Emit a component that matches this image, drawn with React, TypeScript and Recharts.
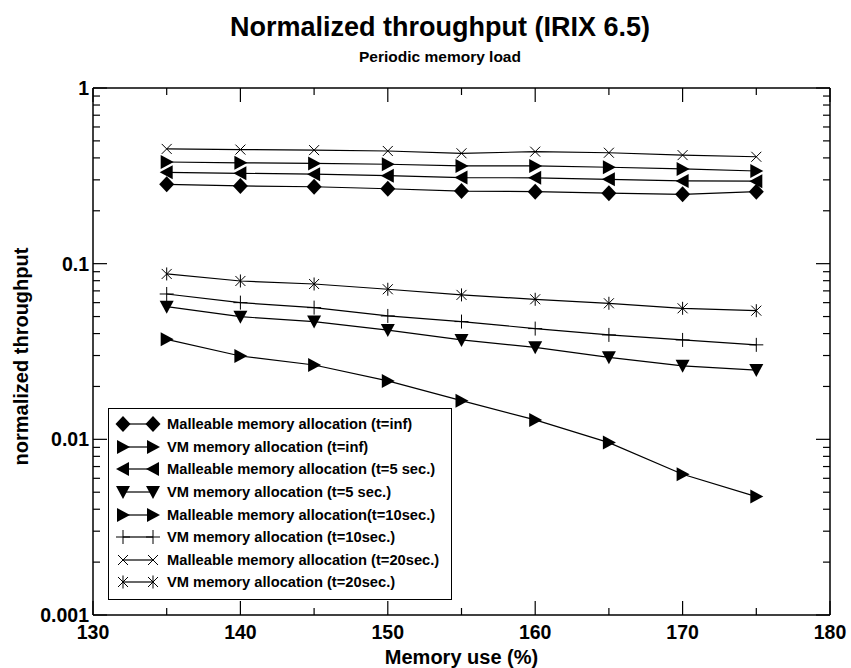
import { LineChart, Line, XAxis, YAxis, Legend } from 'recharts';

const FONT = '"Liberation Sans", Arial, Helvetica, sans-serif';

// memory use (%) of each measured point
const memoryUse = [135, 140, 145, 150, 155, 160, 165, 170, 175];

// normalized throughput per policy
const malleableInf = [0.283, 0.277, 0.274, 0.267, 0.259, 0.257, 0.252, 0.248, 0.257];
const vmInf = [0.0371, 0.0298, 0.0265, 0.0215, 0.0166, 0.0129, 0.00958, 0.00633, 0.00472];
const malleable5 = [0.331, 0.327, 0.323, 0.317, 0.309, 0.308, 0.302, 0.296, 0.295];
const vm5 = [0.0569, 0.0499, 0.0468, 0.0419, 0.0368, 0.0334, 0.0293, 0.0262, 0.0248];
const malleable10 = [0.379, 0.375, 0.372, 0.368, 0.36, 0.36, 0.354, 0.346, 0.337];
const vm10 = [0.0672, 0.06, 0.0562, 0.0504, 0.0468, 0.0427, 0.0393, 0.0368, 0.0345];
const malleable20 = [0.45, 0.446, 0.443, 0.438, 0.425, 0.434, 0.428, 0.415, 0.406];
const vm20 = [0.0874, 0.0797, 0.0766, 0.0715, 0.0664, 0.0627, 0.0595, 0.0557, 0.054];

const xTicks = [130, 135, 140, 145, 150, 155, 160, 165, 170, 175, 180];
const yTicks = [
  0.001, 0.002, 0.003, 0.004, 0.005, 0.006, 0.007, 0.008, 0.009,
  0.01, 0.02, 0.03, 0.04, 0.05, 0.06, 0.07, 0.08, 0.09,
  0.1, 0.2, 0.3, 0.4, 0.5, 0.6, 0.7, 0.8, 0.9, 1,
];

type Shape = 'diamond' | 'triRight' | 'triLeft' | 'triDown' | 'plus' | 'cross' | 'star';

const series: { key: string; name: string; shape: Shape; values: number[] }[] = [
  { key: 'malleableInf', name: 'Malleable memory allocation (t=inf)', shape: 'diamond', values: malleableInf },
  { key: 'vmInf', name: 'VM memory allocation (t=inf)', shape: 'triRight', values: vmInf },
  { key: 'malleable5', name: 'Malleable memory allocation (t=5 sec.)', shape: 'triLeft', values: malleable5 },
  { key: 'vm5', name: 'VM memory allocation (t=5 sec.)', shape: 'triDown', values: vm5 },
  { key: 'malleable10', name: 'Malleable memory allocation(t=10sec.)', shape: 'triRight', values: malleable10 },
  { key: 'vm10', name: 'VM memory allocation (t=10sec.)', shape: 'plus', values: vm10 },
  { key: 'malleable20', name: 'Malleable memory allocation (t=20sec.)', shape: 'cross', values: malleable20 },
  { key: 'vm20', name: 'VM memory allocation (t=20sec.)', shape: 'star', values: vm20 },
];

const data = memoryUse.map((m, i) => {
  const row: Record<string, number> = { m };
  series.forEach((s) => (row[s.key] = s.values[i]));
  return row;
});

function Marker({ shape, cx, cy }: { shape: Shape; cx: number; cy: number }) {
  const thin = { stroke: '#000', strokeWidth: 1, fill: 'none' };
  switch (shape) {
    case 'diamond':
      return <polygon points={`${cx},${cy - 8} ${cx + 7.5},${cy} ${cx},${cy + 8} ${cx - 7.5},${cy}`} fill="#000" />;
    case 'triRight':
      return <polygon points={`${cx - 6},${cy - 7} ${cx + 7},${cy} ${cx - 6},${cy + 7}`} fill="#000" />;
    case 'triLeft':
      return <polygon points={`${cx + 6},${cy - 7} ${cx - 7},${cy} ${cx + 6},${cy + 7}`} fill="#000" />;
    case 'triDown':
      return <polygon points={`${cx - 7},${cy - 6} ${cx + 7},${cy - 6} ${cx},${cy + 7}`} fill="#000" />;
    case 'plus':
      return (
        <g {...thin}>
          <line x1={cx - 7} x2={cx + 7} y1={cy} y2={cy} />
          <line x1={cx} x2={cx} y1={cy - 7} y2={cy + 7} />
        </g>
      );
    case 'cross':
      return (
        <g {...thin}>
          <line x1={cx - 5} x2={cx + 5} y1={cy - 5} y2={cy + 5} />
          <line x1={cx - 5} x2={cx + 5} y1={cy + 5} y2={cy - 5} />
        </g>
      );
    default:
      return (
        <g {...thin}>
          <line x1={cx - 5} x2={cx + 5} y1={cy - 5} y2={cy + 5} />
          <line x1={cx - 5} x2={cx + 5} y1={cy + 5} y2={cy - 5} />
          <line x1={cx} x2={cx} y1={cy - 6.5} y2={cy + 6.5} />
        </g>
      );
  }
}

const dotFor = (shape: Shape) => (props: any) => (
  <Marker key={`${shape}-${props.index}`} shape={shape} cx={props.cx} cy={props.cy} />
);

const isMajor = (v: number) => Math.abs(Math.log10(v) - Math.round(Math.log10(v))) < 1e-9;
const tickText = { fontSize: 19.5, fontWeight: 'bold', fontFamily: FONT, fill: '#000' } as const;

function LeftTick({ x, y, payload }: any) {
  const major = isMajor(payload.value);
  return (
    <g>
      <line x1={x} x2={x + (major ? 14 : 7)} y1={y} y2={y} stroke="#000" strokeWidth={1.2} />
      {major && (
        <text x={x - 4} y={y} dy="0.36em" textAnchor="end" {...tickText}>
          {String(payload.value)}
        </text>
      )}
    </g>
  );
}

function RightTick({ x, y, payload }: any) {
  const major = isMajor(payload.value);
  return <line x1={x} x2={x - (major ? 14 : 7)} y1={y} y2={y} stroke="#000" strokeWidth={1.2} />;
}

function BottomTick({ x, y, payload }: any) {
  const major = payload.value % 10 === 0;
  return (
    <g>
      <line x1={x} x2={x} y1={y} y2={y - (major ? 14 : 7)} stroke="#000" strokeWidth={1.2} />
      {major && (
        <text x={x} y={y + 17} dy="0.36em" textAnchor="middle" {...tickText}>
          {payload.value}
        </text>
      )}
    </g>
  );
}

function TopTick({ x, y, payload }: any) {
  const major = payload.value % 10 === 0;
  return <line x1={x} x2={x} y1={y} y2={y + (major ? 14 : 7)} stroke="#000" strokeWidth={1.2} />;
}

function YLabel({ viewBox }: any) {
  const cx = 21;
  const cy = viewBox.y + viewBox.height / 2 + 5;
  return (
    <text x={cx} y={cy} transform={`rotate(-90 ${cx} ${cy})`} textAnchor="middle" dy="0.36em"
      fontSize={20} fontWeight="bold" fontFamily={FONT}>
      normalized throughput
    </text>
  );
}

function LegendBox() {
  return (
    <div style={{ border: '1.5px solid #000', background: '#fff', width: 344, height: 192, boxSizing: 'border-box', paddingTop: 4 }}>
      {series.map((s) => (
        <div key={s.key} style={{ display: 'flex', alignItems: 'center', height: 22.6 }}>
          <svg width={58} height={20} style={{ flex: 'none' }}>
            <line x1={14} x2={44} y1={10} y2={10} stroke="#000" strokeWidth={1.2} />
            <Marker shape={s.shape} cx={14} cy={10} />
            <Marker shape={s.shape} cx={44} cy={10} />
          </svg>
          <span style={{ fontFamily: FONT, fontWeight: 'bold', fontSize: 14.7, whiteSpace: 'nowrap' }}>{s.name}</span>
        </div>
      ))}
    </div>
  );
}

export default function App() {
  return (
    <div style={{ position: 'absolute', left: 0, top: 0, width: 851, height: 668, background: '#fff' }}>
      <div style={{ position: 'absolute', left: 0, width: 880, top: 12, textAlign: 'center', fontFamily: FONT, fontWeight: 'bold', fontSize: 27 }}>
        Normalized throughput (IRIX 6.5)
      </div>
      <div style={{ position: 'absolute', left: 0, width: 880, top: 48, textAlign: 'center', fontFamily: FONT, fontWeight: 'bold', fontSize: 15.5 }}>
        Periodic memory load
      </div>
      <LineChart width={851} height={668} data={data} margin={{ top: 0, right: 0, bottom: 0, left: 0 }}>
        <XAxis dataKey="m" type="number" domain={[130, 180]} ticks={xTicks} interval={0} height={53}
          tickSize={0} tickMargin={0} tickLine={false} axisLine={{ stroke: '#000', strokeWidth: 1.5 }}
          tick={<BottomTick />} allowDataOverflow
          label={{ value: 'Memory use (%)', position: 'insideBottom', offset: 4, fontSize: 20, fontWeight: 'bold', fontFamily: FONT, fill: '#000' }} />
        <XAxis xAxisId="top" orientation="top" dataKey="m" type="number" domain={[130, 180]} ticks={xTicks} interval={0}
          height={88} tickSize={0} tickMargin={0} tickLine={false} axisLine={{ stroke: '#000', strokeWidth: 1.5 }}
          tick={<TopTick />} allowDataOverflow />
        <YAxis type="number" scale="log" domain={[0.001, 1]} ticks={yTicks} interval={0} width={93}
          tickSize={0} tickMargin={0} tickLine={false} axisLine={{ stroke: '#000', strokeWidth: 1.5 }}
          tick={<LeftTick />} allowDataOverflow label={<YLabel />} />
        <YAxis yAxisId="right" orientation="right" type="number" scale="log" domain={[0.001, 1]} ticks={yTicks}
          interval={0} width={21} tickSize={0} tickMargin={0} tickLine={false}
          axisLine={{ stroke: '#000', strokeWidth: 1.5 }} tick={<RightTick />} allowDataOverflow />
        {series.map((s) => (
          <Line key={s.key} dataKey={s.key} name={s.name} stroke="#000" strokeWidth={1.2}
            dot={dotFor(s.shape)} activeDot={false} isAnimationActive={false} type="linear" />
        ))}
        <Legend layout="vertical" align="center" verticalAlign="middle" content={<LegendBox />}
          wrapperStyle={{ left: 108, top: 408, width: 344, height: 192 }} />
      </LineChart>
    </div>
  );
}
